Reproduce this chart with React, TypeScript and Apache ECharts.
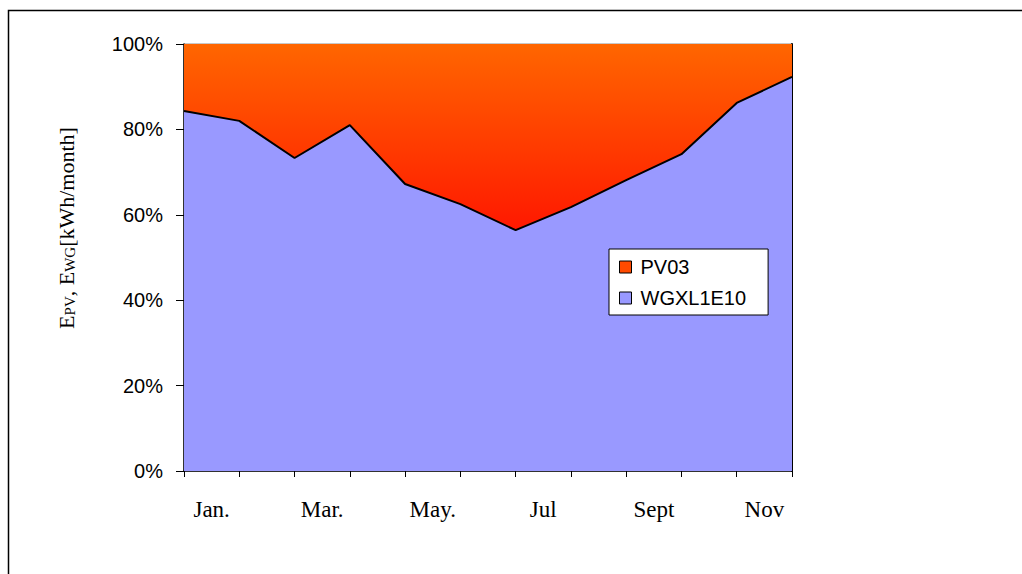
import React, { useEffect, useRef } from "react";
import * as echarts from "echarts";

const months = ["Jan.", "Feb.", "Mar.", "Apr.", "May.", "Jun.", "Jul", "Aug.", "Sept", "Oct.", "Nov", "Dec."];
const bandLabels = ["Jan.", "", "Mar.", "", "May.", "", "Jul", "", "Sept", "", "Nov"];
const wgxl1e10 = [84.3, 82.0, 73.3, 81.0, 67.2, 62.5, 56.4, 61.8, 68.1, 74.2, 86.2, 92.3];
const pv03 = wgxl1e10.map((v) => Math.round((100 - v) * 10) / 10);
const yTicks = [0, 20, 40, 60, 80, 100];

export default function App() {
  const ref = useRef<HTMLDivElement>(null);
  useEffect(() => {
    const chart = echarts.init(ref.current!, null, { renderer: "svg" });
    const pvGrad = new echarts.graphic.LinearGradient(0, 0, 0, 1, [
      { offset: 0, color: "#ff6600" },
      { offset: 1, color: "#ff1800" },
    ]);
    chart.setOption({
      animation: false,
      backgroundColor: "#ffffff",
      grid: { left: 184, top: 44, right: 230, bottom: 103, show: true, borderColor: "#909090", borderWidth: 1 },
      legend: {
        left: 609,
        top: 249,
        orient: "vertical",
        backgroundColor: "#ffffff",
        borderColor: "#000000",
        borderWidth: 1,
        padding: [8, 22, 7, 10],
        itemWidth: 12,
        itemHeight: 12,
        itemGap: 11,
        icon: "rect",
        textStyle: { fontFamily: "Liberation Sans", fontSize: 20, color: "#000", padding: [0, 0, 0, 4] },
        data: [
          { name: "PV03", itemStyle: { color: "#ff4a00", borderColor: "#000", borderWidth: 1 } },
          { name: "WGXL1E10", itemStyle: { color: "#9999ff", borderColor: "#000", borderWidth: 1 } },
        ],
      },
      xAxis: [
        {
          type: "category",
          data: months,
          boundaryGap: false,
          axisLine: { lineStyle: { color: "#000", width: 1.5 } },
          axisTick: { show: true, length: 6, alignWithLabel: true, interval: 0, lineStyle: { color: "#000" } },
          axisLabel: { show: false },
          splitLine: { show: false },
        },
        {
          type: "category",
          data: bandLabels,
          position: "bottom",
          boundaryGap: true,
          axisLine: { show: false },
          axisTick: { show: false },
          axisLabel: {
            interval: 0,
            margin: 27,
            fontFamily: "Liberation Serif",
            fontSize: 23,
            color: "#000",
          },
        },
      ],
      yAxis: [
        {
          type: "value",
          min: 0,
          max: 100,
          interval: 20,
          axisLine: { show: true, lineStyle: { color: "#000", width: 1.5 } },
          axisTick: { show: true, length: 8, inside: false, lineStyle: { color: "#000" } },
          axisLabel: {
            margin: 21,
            fontFamily: "Liberation Sans",
            fontSize: 20,
            color: "#000",
            formatter: (v: number) => (yTicks.includes(v) ? v + "%" : ""),
          },
          splitLine: { show: false },
        },
        {
          type: "value",
          min: 0,
          max: 100,
          interval: 20,
          position: "right",
          axisLine: { show: true, lineStyle: { color: "#000", width: 2 } },
          axisTick: { show: false },
          axisLabel: { show: false },
          splitLine: { show: false },
        },
      ],
      series: [
        {
          name: "WGXL1E10",
          type: "line",
          stack: "total",
          data: wgxl1e10,
          symbol: "none",
          itemStyle: { color: "#9999ff" },
          lineStyle: { color: "#000", width: 2 },
          areaStyle: { color: "#9999ff", opacity: 1 },
          z: 3,
        },
        {
          name: "PV03",
          type: "line",
          stack: "total",
          data: pv03,
          symbol: "none",
          itemStyle: { color: "#ff4a00" },
          lineStyle: { width: 0 },
          areaStyle: { color: pvGrad, opacity: 1 },
          z: 2,
        },
      ],
      graphic: [
        {
          type: "rect",
          shape: { x: 8.5, y: 10.5, width: 1100, height: 700 },
          style: { fill: "none", stroke: "#000", lineWidth: 1.5 },
          silent: true,
        },
        {
          type: "text",
          x: 66,
          y: 228,
          rotation: Math.PI / 2,
          style: {
            text: "{b|E}{s|PV}{b|, E}{s|WG}{b|[kWh/month]}",
            align: "center",
            verticalAlign: "middle",
            rich: {
              b: { fontFamily: "Liberation Serif", fontSize: 22, fill: "#000" },
              s: { fontFamily: "Liberation Serif", fontSize: 15, fill: "#000", verticalAlign: "bottom" },
            },
          },
        },
      ],
    });
    return () => chart.dispose();
  }, []);
  return <div ref={ref} style={{ position: "absolute", left: 0, top: 0, width: 1022, height: 574 }} />;
}
